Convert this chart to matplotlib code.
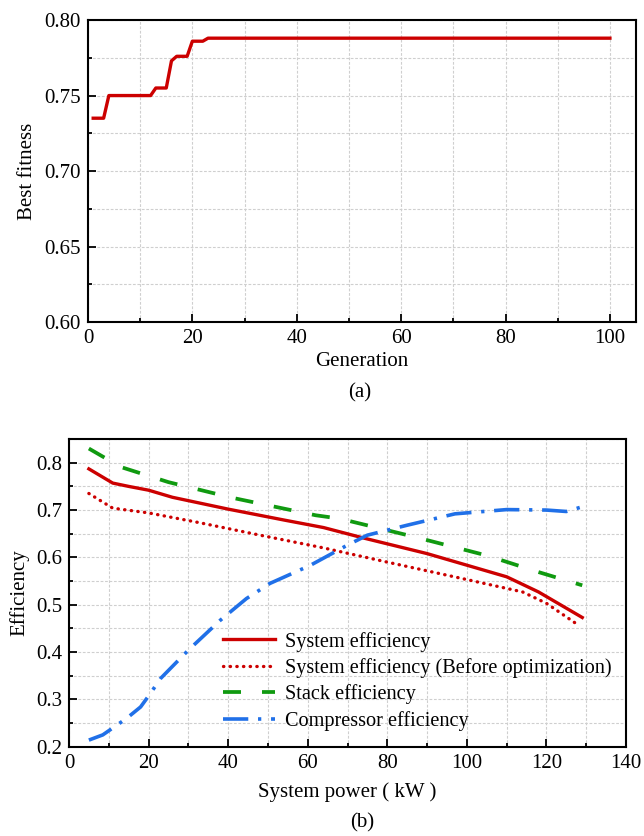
import matplotlib
matplotlib.use("Agg")
import matplotlib.pyplot as plt
from matplotlib.ticker import MultipleLocator

plt.rcParams['font.family'] = ['Liberation Serif', 'DejaVu Serif']

# (a) best fitness per generation (breakpoints of the curve)
gens = [1, 3, 4, 12, 13, 15, 16, 17, 19, 20, 22, 23, 100]
best_fit = [0.735, 0.735, 0.750, 0.750, 0.755, 0.755, 0.773, 0.776, 0.776,
            0.786, 0.786, 0.788, 0.788]

# (b) efficiencies vs system power (kW)
p_sys = [5, 11, 15, 20, 26, 40, 54, 64, 74, 90, 110, 118, 129]
eff_sys = [0.787, 0.757, 0.750, 0.742, 0.727, 0.702, 0.679, 0.663, 0.641, 0.608,
           0.559, 0.527, 0.473]

p_before = [5, 11, 20, 33, 48, 64, 80, 99, 114, 120, 128]
eff_before = [0.735, 0.704, 0.694, 0.673, 0.647, 0.620, 0.590, 0.555, 0.527, 0.503, 0.457]

p_stack = [5, 13, 25, 41, 62, 68, 87, 105, 118, 129]
eff_stack = [0.830, 0.791, 0.759, 0.726, 0.689, 0.682, 0.643, 0.604, 0.569, 0.541]

p_comp = [5, 8.5, 14.5, 18, 20.5, 23, 30, 38, 44.6, 50.5, 60.6, 70, 75, 85, 97,
          110, 120, 125, 129]
eff_comp = [0.214, 0.225, 0.260, 0.284, 0.313, 0.344, 0.404, 0.467, 0.513, 0.545,
            0.583, 0.626, 0.647, 0.668, 0.692, 0.701, 0.700, 0.697, 0.707]

labels = ['System efficiency', 'System efficiency (Before optimization)',
          'Stack efficiency', 'Compressor efficiency']

RED = '#cc0000'
GREEN = '#109a10'
BLUE = '#2070e8'
FS = 15


def style_axes(ax):
    for sp in ax.spines.values():
        sp.set_linewidth(1.5)
    ax.tick_params(which='both', direction='in', top=False, right=False,
                   labelsize=FS, pad=5, width=1.3)
    ax.tick_params(which='major', length=6)
    ax.tick_params(which='minor', length=3)
    ax.grid(which='both', color='#cfcfcf', linestyle=(0, (2.5, 1.5)), linewidth=0.8)
    ax.set_axisbelow(True)


fig = plt.figure(figsize=(6.44, 8.36), dpi=100)

# ---- (a)
ax1 = fig.add_axes([0.1366, 0.6148, 0.851, 0.3612])
ax1.plot(gens, best_fit, color=RED, linewidth=2.4)
ax1.set_xlim(0, 105)
ax1.set_ylim(0.60, 0.80)
ax1.xaxis.set_major_locator(MultipleLocator(20))
ax1.xaxis.set_minor_locator(MultipleLocator(10))
ax1.yaxis.set_major_locator(MultipleLocator(0.05))
ax1.yaxis.set_minor_locator(MultipleLocator(0.025))
ax1.yaxis.set_major_formatter(lambda v, pos: f'{v:.2f}')
style_axes(ax1)
ax1.set_xlabel('Generation', fontsize=FS, labelpad=3)
ax1.set_ylabel('Best fitness', fontsize=FS, labelpad=5)
fig.text(0.559, 0.530, '(a)', fontsize=FS, ha='center', va='center')

# ---- (b)
ax2 = fig.add_axes([0.1071, 0.1068, 0.865, 0.368])
ax2.plot(p_sys, eff_sys, color=RED, linewidth=2.4, label=labels[0])
ax2.plot(p_before, eff_before, color=RED, linewidth=2.4,
         linestyle=(0, (0.1, 1.9)), dash_capstyle='round', label=labels[1])
ax2.plot(p_stack, eff_stack, color=GREEN, linewidth=2.7,
         linestyle=(0, (4.8, 5.6)), label=labels[2])
ax2.plot(p_comp, eff_comp, color=BLUE, linewidth=2.6,
         linestyle=(0, (7, 2.7, 0.9, 2.7)), label=labels[3])
ax2.set_xlim(0, 140)
ax2.set_ylim(0.2, 0.85)
ax2.xaxis.set_major_locator(MultipleLocator(20))
ax2.xaxis.set_minor_locator(MultipleLocator(10))
ax2.yaxis.set_major_locator(MultipleLocator(0.1))
ax2.yaxis.set_minor_locator(MultipleLocator(0.05))
ax2.yaxis.set_major_formatter(lambda v, pos: f'{v:.1f}')
style_axes(ax2)
ax2.set_xlabel('System power ( kW )', fontsize=FS, labelpad=7)
ax2.set_ylabel('Efficiency', fontsize=FS, labelpad=5)
ax2.legend(loc='center', bbox_to_anchor=(0.625, 0.213), frameon=False,
           fontsize=14.6, handlelength=2.55, handletextpad=0.48, labelspacing=0.32)
fig.text(0.562, 0.0155, '(b)', fontsize=FS, ha='center', va='center')

fig.savefig('out.png', dpi=100)
